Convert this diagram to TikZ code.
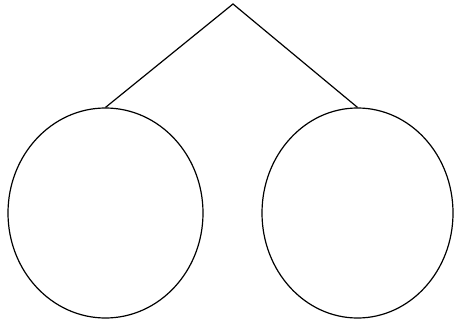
\documentclass[tikz,border=0pt]{standalone}
\usetikzlibrary{shapes.geometric}

\begin{document}
\begin{tikzpicture}[x=1pt,y=-1pt,line width=1.2pt,
  leaf/.style={draw,ellipse,inner sep=0pt}]
  \useasboundingbox (0,0) rectangle (454,323);
  \coordinate (top) at (233,4);
  \node[leaf,minimum width=195pt,minimum height=210pt] (left) at (105.5,213) {};
  \node[leaf,minimum width=191pt,minimum height=210pt] (right) at (357.5,213) {};
  \draw (left.north) -- (top) -- (right.north);
\end{tikzpicture}
\end{document}
